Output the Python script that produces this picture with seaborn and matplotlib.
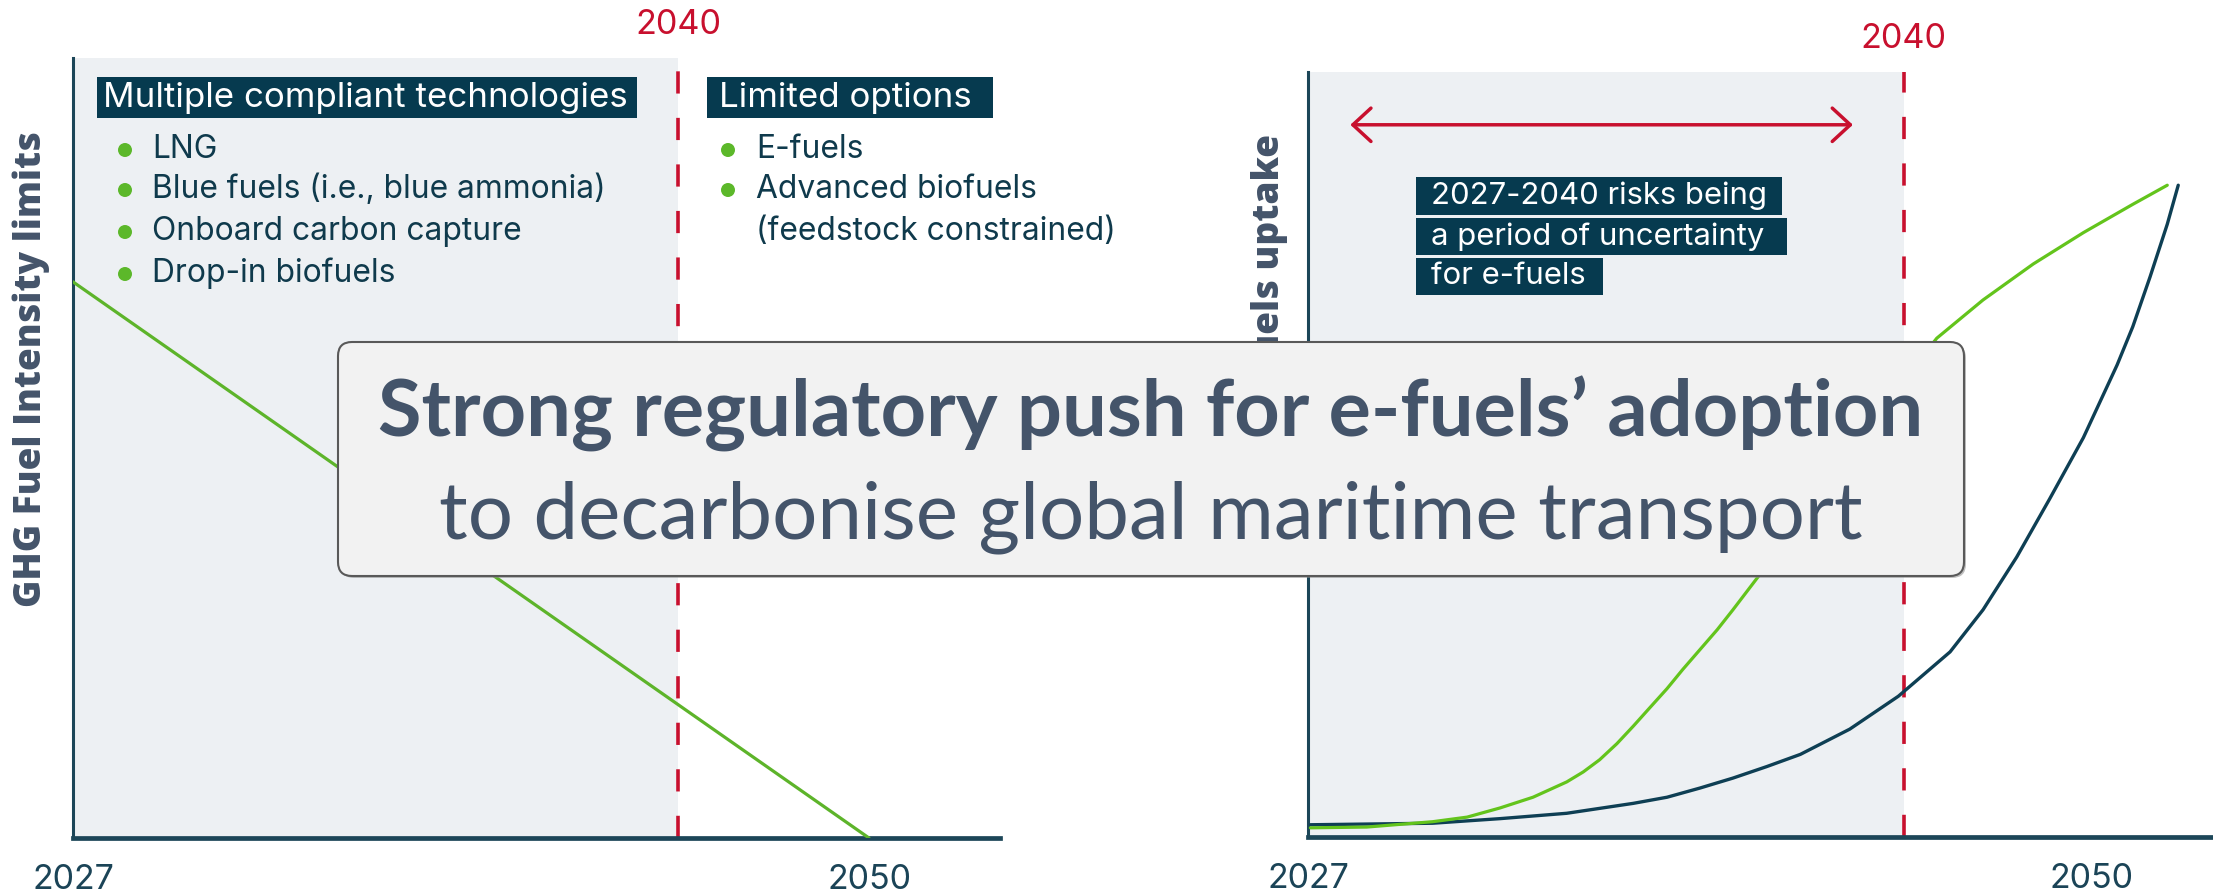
import numpy as np
import pandas as pd
import matplotlib
matplotlib.use("Agg")
import matplotlib.pyplot as plt
import seaborn as sns
from matplotlib.patches import FancyBboxPatch, Rectangle, Circle
from matplotlib.transforms import IdentityTransform

# ------------------------------------------------------------------ data
year_labels = ["2027", "2050"]
year_positions = [0.0, 1.0]            # schematic timeline positions
milestone_label = "2040"
milestone_position = 0.76

ghg_x = [0.0, 1.0]
ghg_y = [0.713, 0.0]

green_x = [0.003, 0.075, 0.159, 0.203, 0.245, 0.287, 0.330, 0.351, 0.372,
           0.394, 0.415, 0.436, 0.458, 0.478, 0.500, 0.522, 0.542, 0.574,
           0.690, 0.802, 0.861, 0.925, 0.989, 1.052, 1.096]
green_y = [0.012, 0.013, 0.020, 0.026, 0.038, 0.052, 0.072, 0.085, 0.101,
           0.122, 0.145, 0.169, 0.194, 0.219, 0.245, 0.271, 0.297, 0.340,
           0.505, 0.652, 0.702, 0.749, 0.790, 0.827, 0.852]
dark_x = [0.003, 0.159, 0.245, 0.330, 0.415, 0.458, 0.500, 0.542, 0.585,
          0.628, 0.691, 0.753, 0.819, 0.861, 0.904, 0.946, 0.989, 1.032,
          1.052, 1.074, 1.096, 1.110]
dark_y = [0.016, 0.018, 0.024, 0.031, 0.044, 0.052, 0.064, 0.077, 0.092,
          0.108, 0.141, 0.184, 0.242, 0.297, 0.366, 0.442, 0.522, 0.617,
          0.667, 0.732, 0.801, 0.852]

left_header = "Multiple compliant technologies"
left_items = ["LNG", "Blue fuels (i.e., blue ammonia)",
              "Onboard carbon capture", "Drop-in biofuels"]
right_header = "Limited options"
right_item_lines = ["E-fuels", "Advanced biofuels", "(feedstock constrained)"]
right_item_bullets = [True, True, False]
uncertainty_lines = ["2027-2040 risks being", "a period of uncertainty",
                     "for e-fuels"]
left_ylabel = "GHG Fuel Intensity limits"
right_ylabel = "E-fuels uptake"
title_line1 = "Strong regulatory push for e-fuels\u2019 adoption"
title_line2 = "to decarbonise global maritime transport"

# ------------------------------------------------------------------ style
sns.set_theme(style="white")
plt.rcParams['font.family'] = ['Inter', 'DejaVu Sans']
plt.rcParams['lines.scale_dashes'] = False

W, H = 2213, 896
NAVY = '#0e3f54'
SPINE = '#1c4658'
RED = '#c8102e'
SHADE = '#edf0f3'
TXT = '#44546a'
HDR = '#063a4f'
BUL = '#5cb82a'
ITEM = '#0f3a4c'

fig = plt.figure(figsize=(W / 100, H / 100), dpi=100)
fig.patch.set_facecolor('white')
R = fig.canvas.get_renderer()


def fx(px):
    return px / W


def fy(py):
    return 1 - py / H


def fit(t, target, vertical=False):
    for _ in range(3):
        bb = t.get_window_extent(renderer=R)
        cur = bb.height if vertical else bb.width
        t.set_fontsize(t.get_fontsize() * target / cur)
    return t.get_fontsize()


def pxrect(x0, y0, x1, y1, **kw):
    r = Rectangle((x0, H - y1), x1 - x0, y1 - y0, transform=IdentityTransform(), **kw)
    fig.add_artist(r)
    return r


def dot(x, y):
    fig.add_artist(Circle((x, H - y), 7, transform=IdentityTransform(),
                          fc=BUL, ec='none', zorder=4))


# year label font size
tmp = fig.text(0, 0, "2027", fontsize=20)
fs_year = fit(tmp, 82)
tmp.remove()

ax1 = fig.add_axes([fx(73), fy(838), (1000 - 73) / W, (838 - 58) / H])
ax2 = fig.add_axes([fx(1308), fy(837), (2213 - 1308) / W, (837 - 72) / H])
ax1.set_xlim(0, 927 / 796)
ax2.set_xlim(0, 905 / 784)

milestone_y = {}
for ax, ytop in ((ax1, (838 - 25) / 780), (ax2, (837 - 39) / 765)):
    ax.set_ylim(0, 1)
    ax.set_facecolor('none')
    sns.despine(ax=ax)
    ax.spines['left'].set_color(SPINE)
    ax.spines['left'].set_linewidth(2.2)
    ax.spines['bottom'].set_color(SPINE)
    ax.spines['bottom'].set_linewidth(3.4)
    ax.set_yticks([])
    ax.set_xticks(year_positions, year_labels)
    ax.tick_params(axis='x', length=0, pad=19, labelsize=fs_year, labelcolor='#1b4457')
    ax.axvspan(0, milestone_position, color=SHADE, zorder=0, lw=0)
    ax.axvline(milestone_position, color=RED, lw=2.6, linestyle=(0, (16, 17.5)), zorder=1)
    t = ax.text(milestone_position, ytop, milestone_label, color=RED,
                transform=ax.get_xaxis_transform(), ha='center', va='center',
                fontsize=20, clip_on=False)
    fit(t, 86)

# lines
sns.lineplot(x=ghg_x, y=ghg_y, ax=ax1, color='#5db42a', lw=2.3, zorder=3)
sns.lineplot(x=dark_x, y=dark_y, ax=ax2, color=NAVY, lw=2.4, zorder=3)
sns.lineplot(x=green_x, y=green_y, ax=ax2, color='#63c41c', lw=2.3, zorder=4)
for ln in ax2.lines + ax1.lines:
    ln.set_solid_joinstyle('round')

# y labels
yl1 = ax1.text((31 - 73) / 927, (838 - 131) / 780, left_ylabel, transform=ax1.transAxes,
               rotation=90, ha='center', va='top', color=TXT, fontweight='heavy',
               fontfamily=['Open Sans', 'DejaVu Sans'], fontsize=20, clip_on=False)
fs_ylab = fit(yl1, 476, vertical=True)
ax2.text((1270 - 1308) / 905, (837 - 134) / 765, right_ylabel, transform=ax2.transAxes,
         rotation=90, ha='center', va='top', color=TXT, fontweight='heavy',
         fontfamily=['Open Sans', 'DejaVu Sans'], fontsize=fs_ylab, clip_on=False)

# double arrow for the uncertainty period
ax2.annotate('', xy=(0.695, 0.931), xytext=(0.054, 0.931), xycoords='data',
             arrowprops=dict(arrowstyle='<->,head_length=1.3,head_width=1.2',
                             color=RED, lw=2.5, shrinkA=0, shrinkB=0,
                             mutation_scale=10))

# header boxes
pxrect(97, 77, 637, 118, fc=HDR, ec='none', zorder=3)
th = fig.text(fx(103), fy(97.5), left_header, color='white', va='center', ha='left',
              fontsize=20, zorder=4)
fit(th, 525)
pxrect(707, 77, 993, 118, fc=HDR, ec='none', zorder=3)
fig.text(fx(719), fy(97.5), right_header, color='white', va='center', ha='left',
         fontsize=th.get_fontsize(), zorder=4)

# bullet lists
tb = fig.text(fx(152), fy(198), left_items[1], color=ITEM, va='baseline', fontsize=18)
fs_bul = fit(tb, 454)
tb.remove()
left_baselines = [158, 198, 240, 282]
for item, b in zip(left_items, left_baselines):
    fig.text(fx(152), fy(b), item, color=ITEM, va='baseline', fontsize=fs_bul, zorder=4)
    dot(125, b - 8)
right_baselines = [158, 198, 240]
for item, has_dot, b in zip(right_item_lines, right_item_bullets, right_baselines):
    fig.text(fx(756), fy(b), item, color=ITEM, va='baseline', fontsize=fs_bul, zorder=4)
    if has_dot:
        dot(728, b - 8)

# uncertainty box
boxes = [(1416, 177, 1782, 215), (1416, 218, 1787, 255), (1416, 258, 1603, 295)]
for (x0, y0, x1, y1) in boxes:
    pxrect(x0, y0, x1, y1, fc=HDR, ec='none', zorder=3)
tu = fig.text(fx(1431), fy(196), uncertainty_lines[0], color='white', va='center',
              fontsize=18, zorder=4)
fs_unc = fit(tu, 336)
for line, (x0, y0, x1, y1) in zip(uncertainty_lines[1:], boxes[1:]):
    fig.text(fx(1431), fy((y0 + y1) / 2), line, color='white', va='center',
             fontsize=fs_unc, zorder=4)

# central message box
shadow = FancyBboxPatch((340, H - 578), 1964 - 338, 576 - 342,
                        boxstyle="round,pad=0,rounding_size=14",
                        transform=IdentityTransform(), fc='#8c8c8c', ec='none',
                        alpha=0.55, zorder=5)
fig.add_artist(shadow)
box = FancyBboxPatch((338, H - 576), 1964 - 338, 576 - 342,
                     boxstyle="round,pad=0,rounding_size=14",
                     transform=IdentityTransform(), fc='#f2f2f2', ec='#595959',
                     lw=1.5, zorder=6)
fig.add_artist(box)
t1 = fig.text(fx(1150.5), fy(437), title_line1, ha='center', va='baseline', color=TXT,
              fontfamily=['Lato', 'DejaVu Sans'], fontweight='bold', fontsize=40, zorder=7)
fit(t1, 1545)
t2 = fig.text(fx(1151), fy(538), title_line2, ha='center', va='baseline', color=TXT,
              fontfamily=['Lato', 'DejaVu Sans'], fontsize=40, zorder=7)
fit(t2, 1422)

fig.savefig("out.png", dpi=100, facecolor='white')
